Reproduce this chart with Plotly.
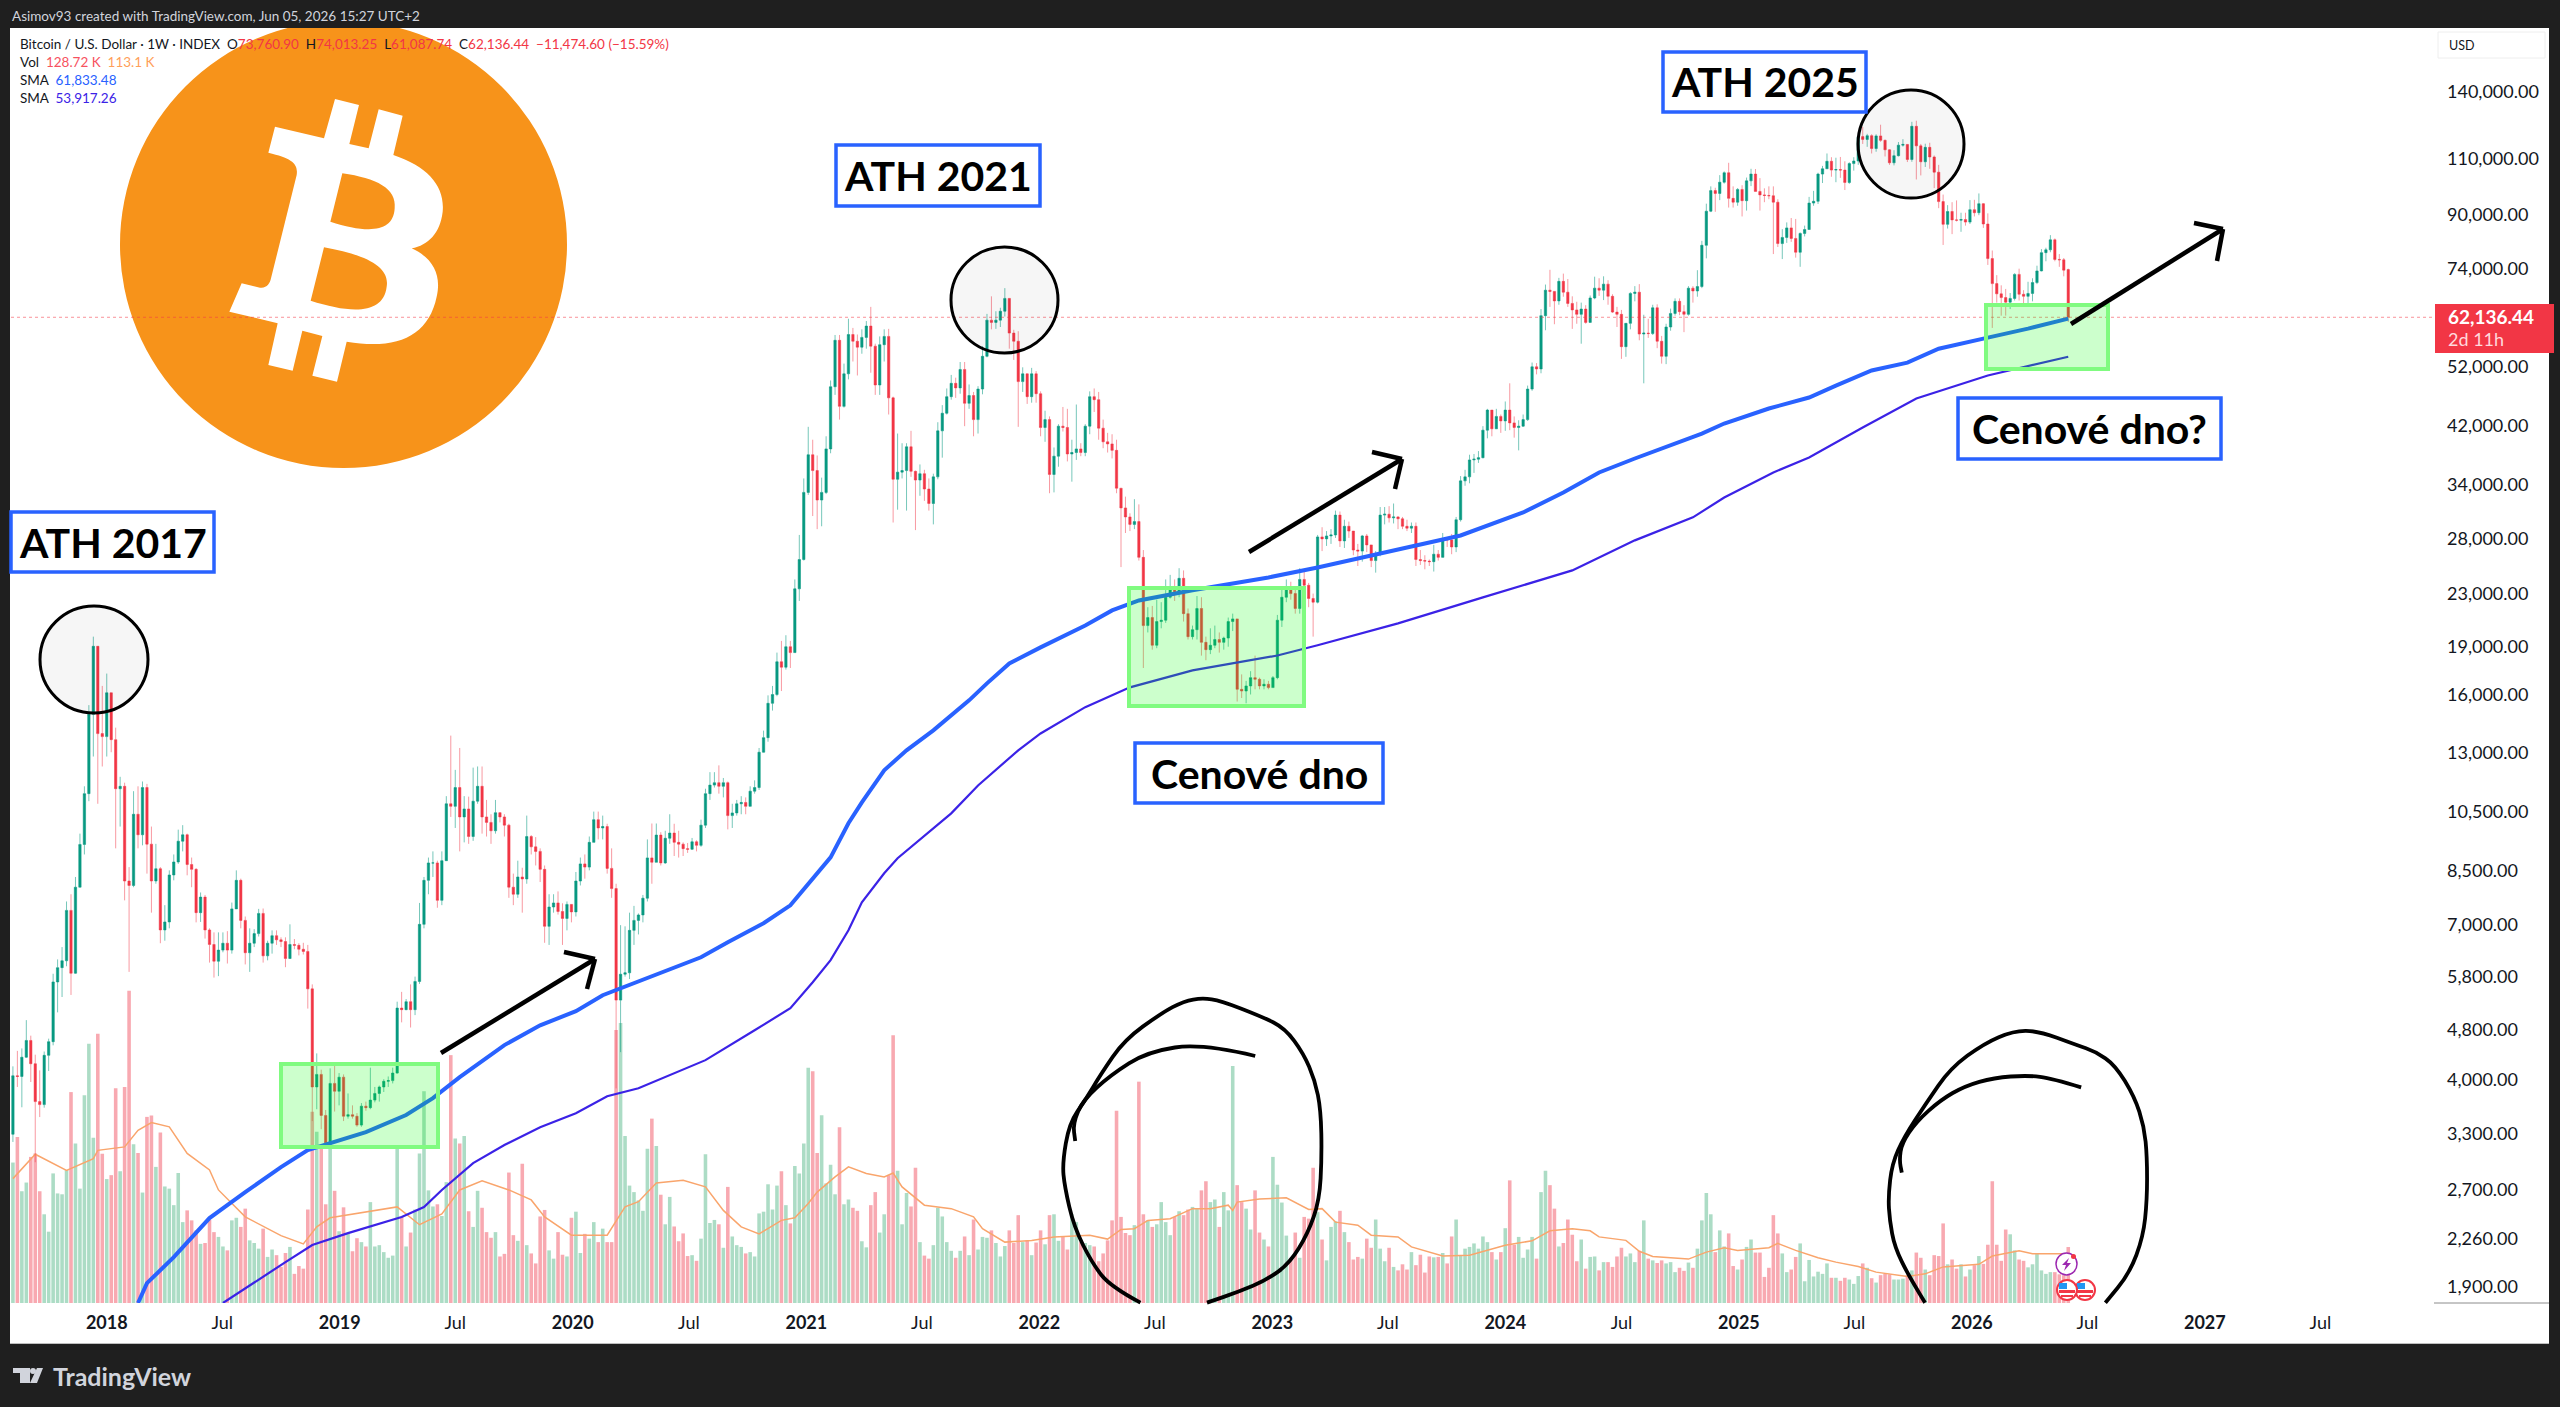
import pandas as pd
import plotly.graph_objects as go

W, H = 2560, 1407
DARK = "#1f1f1f"
UP = "#089981"
DOWN = "#f23645"
BOX_BLUE = "#2962ff"
FONT = "Lato"

# Weekly candles, first week 2017-08-07
closes = [
    4060, 4050, 4340, 4610, 4240, 3700, 3660, 4370, 4590, 5690,
    5990, 6140, 7360, 5870, 8000, 9330, 11200, 14900, 19030, 13900,
    13750, 16100, 13600, 11400, 11500, 8180, 8050, 10400, 9660, 11450,
    9340, 8180, 8550, 6860, 7060, 8360, 8760, 9440, 9660, 8680,
    8530, 7300, 7720, 6860, 6510, 6130, 6380, 6540, 6380, 7400,
    8200, 7100, 6320, 6540, 6770, 7280, 6250, 6540, 6720, 6620,
    6580, 6190, 6510, 6490, 6400, 6350, 5550, 3900, 4080, 3520,
    3190, 3950, 3840, 4040, 3510, 3530, 3510, 3400, 3640, 3620,
    3720, 3810, 3900, 3980, 3990, 4100, 5180, 5150, 5300, 5150,
    5700, 7000, 8200, 8730, 8730, 7630, 8800, 10800, 10700, 11450,
    10300, 10600, 9600, 10900, 11500, 10300, 10100, 9800, 10460, 10300,
    10000, 8000, 7800, 8300, 8240, 9600, 9250, 9100, 8530, 6950,
    7450, 7560, 7330, 7150, 7520, 7320, 8180, 8700, 8600, 9400,
    10200, 9900, 9950, 8560, 7960, 5330, 5850, 5880, 6850, 7100,
    7240, 7690, 8890, 8750, 9650, 8730, 9540, 9720, 9400, 9340,
    9190, 9170, 9420, 9300, 10000, 11200, 11550, 11650, 11500, 11650,
    10350, 10450, 10800, 10850, 10700, 11300, 11450, 13000, 13700, 15500,
    16000, 18000, 17650, 19000, 18600, 23400, 26000, 33100, 37900, 35800,
    32200, 33100, 38700, 48400, 57200, 45100, 50700, 58400, 57000, 55800,
    57800, 60200, 56000, 48700, 56300, 58000, 46500, 34700, 35600, 35800,
    39000, 35700, 34600, 35400, 33500, 31800, 35000, 41300, 44000, 46700,
    49000, 48200, 51500, 45600, 46900, 43000, 48000, 54000, 61500, 61000,
    61500, 63500, 66500, 58700, 57000, 49300, 50700, 46700, 50700, 47200,
    41800, 43000, 35300, 37700, 42000, 41800, 38000, 38200, 38700, 38200,
    42000, 46700, 46200, 41700, 39700, 39400, 38500, 33600, 31300, 30300,
    29500, 29800, 26200, 20500, 21100, 19100, 20800, 20900, 22700, 23300,
    23000, 24300, 21400, 19700, 20200, 21800, 19300, 18800, 19100, 19500,
    19300, 19600, 20800, 21000, 16300, 16200, 16500, 17000, 16900, 16500,
    16600, 16400, 17000, 20900, 22700, 23500, 23000, 21800, 24200, 23700,
    22600, 22300, 28200, 28000, 28300, 28400, 30500, 27800, 29300, 28800,
    26900, 26800, 28300, 27400, 25900, 26500, 30500, 30600, 30200, 30300,
    30100, 29300, 29100, 29300, 26000, 25900, 25850, 25800, 26500, 26200,
    28000, 27900, 27200, 30000, 34500, 35000, 37200, 37300, 37500, 41400,
    44500, 41600, 43500, 42800, 44500, 42500, 41800, 42000, 43000, 48000,
    52000, 51600, 62500, 68500, 68200, 65900, 70700, 68000, 65300, 63800,
    62800, 64000, 61000, 66600, 69000, 68500, 70000, 67000, 63300, 62800,
    55900, 60800, 67700, 68000, 58500, 58700, 58600, 64300, 57000, 54000,
    60000, 63000, 65800, 63400, 62800, 69000, 68300, 69400, 80500, 91000,
    98000, 97000, 101000, 104500, 95300, 94000, 98400, 94500, 101500, 104000,
    97700, 96500, 96300, 96200, 94000, 81000, 82800, 85700, 82500, 78500,
    84000, 85200, 93700, 94300, 104000, 106000, 108900, 105500, 105700, 105500,
    100900, 108000, 109000, 119000, 117800, 119400, 114000, 119300, 117400, 113500,
    108300, 111100, 115400, 115700, 109600, 123500, 115100, 108700, 114500, 110600,
    104700, 94200, 86800, 90900, 88200, 88100, 88300, 87500, 91500, 90500,
    93500, 86900, 76740, 70130, 67600, 66700, 65600, 66500, 72500, 67500,
    67000, 67700, 70400, 73400, 78400, 79200, 82100, 76500, 76400, 73611, 62136.44,
]
highs = [
    4200, 4440, 4480, 4960, 4690, 4380, 4140, 4430, 4640, 5860,
    6170, 6450, 7600, 7800, 8300, 9700, 11500, 15400, 19700, 18900,
    16500, 17250, 16100, 14200, 11900, 11650, 8600, 11300, 11500, 11700,
    11600, 9950, 9350, 8600, 7500, 8500, 9000, 9840, 10000, 9700,
    8900, 8570, 7850, 7780, 6900, 6800, 6800, 6800, 6830, 7570,
    8500, 8250, 7200, 6900, 6880, 7400, 7410, 6600, 6850, 6850,
    6680, 6680, 7000, 6640, 6540, 6550, 6500, 5640, 4400, 4150,
    3590, 4170, 4230, 4100, 4080, 3810, 3650, 3550, 3680, 3700,
    4180, 3900, 3920, 4010, 4050, 4180, 5300, 5490, 5350, 5640,
    5800, 7560, 8300, 8900, 9100, 8800, 9100, 11100, 13800, 12200,
    13200, 11100, 11080, 12300, 12350, 12350, 10950, 10400, 10950, 10480,
    10400, 10050, 8400, 8800, 8580, 10350, 9650, 9580, 9200, 8650,
    7800, 7800, 7880, 7550, 7600, 7450, 8450, 8900, 9000, 9600,
    10500, 10500, 10350, 10050, 9200, 8100, 6980, 6950, 7300, 7480,
    7280, 7780, 9500, 10060, 10060, 9750, 9800, 10400, 10050, 9800,
    9400, 9380, 9550, 9470, 10200, 11400, 12100, 12100, 12400, 11850,
    11700, 10800, 10950, 11100, 11050, 11500, 11750, 13200, 14050, 15950,
    16500, 18600, 19400, 19800, 19400, 24200, 28400, 34800, 41900, 40000,
    37800, 34900, 40500, 49500, 58300, 58300, 52600, 61800, 59800, 58400,
    59500, 61300, 64500, 56500, 58000, 59500, 59600, 46700, 40900, 39500,
    39500, 41300, 35800, 36600, 35900, 34800, 35400, 42600, 45300, 48100,
    50500, 50000, 52900, 52900, 48800, 47500, 48500, 56000, 62900, 67000,
    63500, 64300, 69000, 66300, 59400, 59100, 51900, 50300, 51800, 51200,
    47600, 44400, 43500, 38900, 42300, 45000, 44700, 40000, 45400, 39500,
    42300, 47600, 48100, 47500, 43000, 41000, 40800, 40000, 33600, 32600,
    30700, 32300, 31700, 26900, 21900, 22000, 22500, 22300, 24200, 24600,
    24200, 25200, 25000, 21800, 20500, 22800, 22700, 19700, 20300, 20500,
    20000, 19700, 21100, 21400, 21000, 17200, 16800, 17400, 18400, 17000,
    16900, 16800, 17100, 21300, 23400, 24200, 24000, 23300, 25200, 25000,
    23900, 23000, 28400, 29200, 28800, 29000, 31000, 30900, 30000, 29800,
    28400, 27500, 28400, 28500, 27400, 26800, 31400, 31400, 31500, 31800,
    30400, 30300, 30000, 29700, 29700, 26900, 26400, 26000, 27400, 26900,
    28600, 28100, 28500, 30300, 35100, 35900, 37900, 38000, 38400, 42000,
    44700, 44400, 44700, 43800, 45900, 49000, 43500, 42900, 43800, 48600,
    52800, 52700, 64000, 69900, 73700, 68000, 71600, 72700, 71300, 67000,
    65700, 65500, 64900, 67200, 71900, 71500, 72000, 71000, 67500, 64500,
    63800, 60800, 68000, 69500, 70000, 62700, 61800, 65000, 65100, 58100,
    60700, 64100, 66500, 66500, 64900, 69500, 69500, 73600, 81800, 93500,
    99500, 99000, 103600, 105000, 108300, 99500, 98900, 99900, 102700, 106000,
    105900, 102500, 98800, 99500, 99500, 95000, 85300, 87400, 88800, 88500,
    84300, 86400, 95800, 97900, 104500, 107100, 112000, 110500, 110300, 110600,
    108900, 108500, 110500, 119500, 123200, 120200, 120000, 120000, 124200, 117800,
    113700, 113300, 116700, 117900, 113500, 125500, 126000, 115900, 116000, 116400,
    111200, 107500, 96600, 93000, 94000, 94600, 90500, 90500, 94700, 94800,
    97000, 93700, 90300, 79000, 72300, 69700, 68800, 67800, 72800, 74000,
    68500, 70600, 71500, 74800, 79400, 79800, 83500, 82500, 78000, 76900, 74013.25,
]
lows = [
    3200, 3900, 3625, 4330, 3970, 2975, 3500, 3620, 4130, 4530,
    5100, 5390, 6020, 5430, 5860, 8000, 9000, 10900, 12800, 10800,
    12350, 12800, 13000, 9200, 9950, 7630, 5900, 8000, 9200, 9300,
    8400, 7300, 8100, 6540, 6600, 6900, 8200, 8700, 9100, 8350,
    8000, 7050, 7060, 6650, 6100, 5780, 5810, 6330, 6080, 6300,
    7400, 6900, 6060, 5900, 6450, 6700, 6100, 6150, 6300, 6500,
    6450, 6000, 6180, 6400, 6260, 6280, 5170, 3450, 3600, 3350,
    3150, 3180, 3570, 3650, 3450, 3480, 3480, 3380, 3380, 3580,
    3600, 3690, 3700, 3830, 3900, 3950, 4090, 4920, 5140, 4830,
    5050, 5650, 6900, 7800, 8300, 7430, 7500, 8900, 10300, 9900,
    9100, 9400, 9350, 9450, 10800, 9700, 9600, 9350, 9700, 10100,
    9600, 7700, 7500, 7700, 7300, 8100, 9000, 8650, 8150, 6550,
    6500, 7300, 7250, 6500, 6850, 7050, 7200, 8050, 8250, 8500,
    9400, 9500, 9500, 8400, 7700, 3880, 4420, 5800, 5750, 6500,
    6750, 7050, 7600, 8100, 8750, 8650, 8700, 9350, 8950, 8900,
    8950, 9050, 9150, 9100, 9250, 9900, 10950, 11450, 11200, 11050,
    9850, 9900, 10350, 10400, 10400, 10700, 11200, 11350, 13200, 13500,
    15100, 15900, 16200, 17500, 17600, 19200, 22400, 25900, 32800, 30400,
    29000, 29300, 32900, 38100, 47000, 43000, 44900, 49700, 53000, 50400,
    54500, 55500, 50900, 47000, 47000, 53000, 43800, 29700, 31100, 34800,
    31000, 35000, 28900, 32700, 32100, 31000, 29500, 34700, 37500, 43800,
    46200, 46500, 47200, 42000, 44700, 40500, 40900, 47100, 53800, 59500,
    59600, 60000, 62300, 55500, 53300, 41900, 47500, 45500, 45700, 45700,
    40500, 39700, 33000, 33100, 36300, 41200, 37000, 34400, 37200, 37700,
    37700, 40800, 44200, 40000, 38800, 38200, 37400, 33000, 25300, 28600,
    28800, 29000, 25900, 17600, 20000, 18800, 18900, 20300, 20700, 22600,
    22400, 22700, 20800, 19500, 19500, 19500, 18400, 18100, 18500, 18900,
    18600, 18800, 19000, 20100, 15600, 15800, 15500, 16000, 16300, 16300,
    16300, 16300, 16400, 16900, 20400, 22300, 22500, 21400, 21400, 22800,
    21900, 19700, 22200, 26800, 27300, 27500, 28100, 27200, 27100, 28100,
    26400, 25400, 25800, 26700, 25300, 24800, 26300, 29500, 29700, 29600,
    29000, 29000, 28800, 28600, 25400, 25500, 25100, 25400, 24900, 25900,
    26300, 27200, 26500, 26700, 29800, 33900, 34200, 35500, 36800, 37400,
    40200, 40500, 41700, 41000, 41300, 41400, 40300, 38500, 41900, 42800,
    47700, 50600, 50800, 59300, 64500, 60600, 65000, 66900, 64500, 59600,
    60700, 56500, 60700, 61000, 66300, 67100, 66100, 65000, 63100, 60000,
    53500, 53900, 59500, 65800, 57200, 49000, 57700, 58300, 55600, 52600,
    52500, 59200, 62500, 62600, 58900, 62500, 65500, 66900, 69000, 76800,
    90700, 90800, 94700, 100500, 92200, 92200, 92800, 89300, 91200, 99600,
    97700, 91200, 94000, 95000, 78000, 80000, 76600, 81200, 81500, 77000,
    74500, 83100, 85200, 92800, 93400, 100700, 106000, 103000, 101000, 102600,
    98200, 100400, 105300, 107500, 115900, 114700, 112000, 112700, 116800, 110800,
    107500, 107300, 110800, 114800, 108600, 108700, 102000, 103500, 106700, 106000,
    98900, 92000, 80600, 85500, 83800, 87700, 84500, 86400, 86900, 89300,
    89700, 85700, 75000, 59800, 65500, 62500, 62500, 64000, 66000, 66000,
    65000, 64500, 65800, 70000, 73300, 76000, 78500, 76000, 74500, 72000, 61087.74,
]
first_open = 3290
last_open = 73760.90

# Volume in thousands
volumes = [
    323, 382, 257, 277, 336, 344, 257, 204, 164, 298,
    252, 250, 305, 485, 367, 263, 478, 596, 380, 619,
    343, 285, 294, 494, 303, 497, 718, 365, 345, 254,
    428, 431, 313, 392, 268, 263, 225, 299, 186, 213,
    190, 167, 136, 138, 191, 163, 152, 130, 121, 190,
    196, 175, 217, 144, 138, 125, 171, 106, 123, 110,
    83, 115, 129, 67, 85, 79, 215, 440, 394, 359,
    227, 367, 258, 165, 220, 160, 119, 149, 140, 130,
    232, 130, 133, 117, 104, 109, 360, 198, 130, 162,
    215, 344, 487, 259, 222, 227, 200, 278, 570, 378,
    367, 384, 211, 175, 258, 219, 163, 150, 163, 107,
    113, 300, 156, 143, 320, 133, 114, 91, 199, 214,
    121, 102, 163, 111, 107, 196, 210, 115, 159, 148,
    186, 140, 171, 140, 140, 628, 644, 384, 270, 255,
    236, 212, 355, 424, 361, 249, 181, 244, 176, 142,
    160, 108, 110, 97, 148, 342, 184, 191, 181, 127,
    267, 153, 133, 129, 114, 117, 107, 206, 210, 273,
    215, 270, 303, 225, 183, 315, 298, 367, 541, 533,
    345, 432, 275, 318, 250, 404, 227, 238, 219, 212,
    142, 128, 225, 255, 162, 204, 294, 616, 304, 181,
    253, 222, 311, 140, 109, 102, 133, 219, 199, 140,
    120, 104, 120, 153, 110, 192, 123, 152, 150, 167,
    138, 107, 131, 167, 138, 202, 140, 144, 110, 139,
    167, 135, 202, 204, 143, 152, 123, 204, 186, 140,
    138, 133, 130, 96, 114, 144, 190, 442, 198, 161,
    156, 179, 509, 204, 190, 175, 181, 232, 186, 156,
    198, 211, 202, 215, 221, 216, 259, 280, 232, 238,
    175, 255, 213, 545, 271, 232, 217, 169, 259, 162,
    146, 130, 336, 272, 231, 155, 102, 162, 104, 198,
    194, 311, 209, 146, 98, 175, 188, 212, 163, 140,
    100, 106, 102, 148, 127, 192, 125, 96, 127, 83,
    75, 89, 77, 117, 87, 111, 70, 107, 105, 106,
    115, 91, 153, 192, 110, 125, 129, 137, 125, 153,
    140, 117, 100, 117, 172, 282, 134, 152, 104, 123,
    152, 102, 255, 304, 271, 217, 130, 138, 192, 157,
    96, 146, 79, 106, 107, 75, 94, 94, 83, 107,
    127, 107, 114, 94, 120, 190, 102, 98, 92, 98,
    91, 94, 71, 81, 74, 93, 81, 125, 190, 253,
    204, 117, 167, 130, 160, 85, 77, 100, 129, 146,
    116, 116, 60, 81, 202, 160, 114, 71, 77, 106,
    137, 50, 99, 61, 72, 67, 91, 58, 58, 51,
    58, 54, 44, 62, 91, 81, 57, 47, 64, 67,
    66, 54, 54, 56, 64, 75, 116, 104, 77, 64,
    110, 108, 183, 89, 100, 79, 89, 61, 77, 87,
    108, 90, 134, 280, 134, 97, 169, 158, 121, 100,
    97, 82, 89, 114, 75, 67, 71, 71, 66, 64, 128.72,
]

# Moving averages, read at the listed week numbers
sma_fast_weeks = [28, 30, 36, 44, 52, 60, 66, 71, 79, 88, 94, 100, 110, 118, 126, 132, 136, 142, 154, 160,
                  168, 174, 178, 183, 187, 190, 195, 200, 206, 214, 218, 223, 230, 240, 246, 252, 264, 274,
                  281, 292, 304, 314, 324, 338, 347, 355, 363, 378, 383, 393, 402, 408, 416, 424, 431, 442,
                  451, 460]
sma_fast = [1793, 1926, 2114, 2434, 2672, 2923, 3107, 3186, 3316, 3526, 3746, 4039, 4534, 4868, 5122, 5424, 5562,
            5765, 6218, 6564, 7028, 7496, 8114, 8908, 10068, 10854, 12182, 13089, 14062, 15666, 16653, 17890,
            18956, 20507, 21650, 22443, 23270, 23946, 24373, 25270, 26370, 27358, 28346, 30790, 33080, 35560,
            37390, 40890, 42400, 44750, 46560, 48590, 51310, 52790, 55500, 57760, 59650, 61833.48]
sma_slow_weeks = [47, 53, 61, 67, 75, 87, 92, 96, 103, 110, 118, 126, 133, 140, 155, 166, 174, 179, 183, 187, 190,
                  195, 198, 210, 216, 225, 230, 240, 250, 264, 283, 292, 310, 329, 349, 363, 376, 383, 394, 402,
                  414, 426, 442, 460]
sma_slow = [1793, 1912, 2077, 2209, 2305, 2443, 2533, 2692, 2965, 3165, 3375, 3549, 3772, 3882, 4295, 4783, 5177,
            5685, 6154, 6852, 7576, 8412, 8877, 10434, 11536, 13089, 13909, 15287, 16418, 17452, 18407, 19097,
            20663, 22685, 25002, 27852, 30253, 32496, 35560, 37519, 41795, 46390, 50390, 53917.26]
vol_sma_weeks = [0, 5, 12, 18, 19, 25, 28, 31, 35, 39, 44, 46, 52, 60, 65, 68, 71, 79, 86, 91, 96, 100, 105, 111,
                 116, 119, 125, 133, 137, 140, 144, 150, 155, 159, 163, 167, 172, 175, 178, 180, 184, 187, 191,
                 195, 197, 199, 204, 210, 215, 217, 222, 228, 233, 241, 245, 248, 251, 254, 259, 264, 268, 272,
                 273, 274, 279, 285, 290, 293, 296, 301, 304, 310, 313, 320, 326, 334, 340, 344, 349, 353, 355,
                 361, 364, 367, 375, 379, 383, 386, 390, 393, 395, 399, 404, 408, 413, 417, 424, 428, 432, 440,
                 443, 449, 452, 460]
vol_sma = [286, 342, 305, 332, 351, 359, 397, 415, 405, 344, 306, 260, 198, 155, 136, 175, 196, 209, 221, 180, 205,
           260, 281, 260, 237, 198, 156, 156, 221, 233, 276, 282, 267, 213, 175, 159, 190, 196, 229, 255, 290, 313,
           298, 290, 299, 267, 225, 217, 198, 171, 140, 144, 152, 156, 147, 169, 171, 190, 194, 217, 217, 225, 213,
           232, 239, 242, 215, 217, 186, 179, 156, 152, 129, 108, 110, 133, 143, 166, 171, 166, 152, 144, 119, 107,
           101, 117, 127, 121, 125, 127, 137, 121, 104, 94, 84, 71, 61, 67, 83, 89, 108, 120, 113.5, 113.1]

price_ticks = [140000, 110000, 90000, 74000, 52000, 42000, 34000, 28000, 23000, 19000, 16000,
               13000, 10500, 8500, 7000, 5800, 4800, 4000, 3300, 2700, 2260, 1900]
time_ticks = ["2018-01-01", "2018-07-01", "2019-01-01", "2019-07-01", "2020-01-01", "2020-07-01",
              "2021-01-01", "2021-07-01", "2022-01-01", "2022-07-01", "2023-01-01", "2023-07-01",
              "2024-01-01", "2024-07-01", "2025-01-01", "2025-07-01", "2026-01-01", "2026-07-01",
              "2027-01-01", "2027-07-01"]
time_labels = ["<b>2018</b>", "Jul", "<b>2019</b>", "Jul", "<b>2020</b>", "Jul", "<b>2021</b>", "Jul",
               "<b>2022</b>", "Jul", "<b>2023</b>", "Jul", "<b>2024</b>", "Jul", "<b>2025</b>", "Jul",
               "<b>2026</b>", "Jul", "<b>2027</b>", "Jul"]

lengths = {len(closes), len(highs), len(lows), len(volumes)}
assert len(lengths) == 1, f"lengths {len(closes)} {len(highs)} {len(lows)} {len(volumes)}"

weeks = pd.date_range("2017-08-07", periods=len(closes), freq="7D")
opens = [first_open] + closes[:-1]
opens[-1] = last_open
vol_colors = ["#acdcc5" if c >= o else "#f8a9b1" for o, c in zip(opens, closes)]


# pixel position in the picture -> paper fraction
def fx(x):
    return x / W


def fy(y):
    return 1 - y / H


def rect(x0, y0, x1, y1, fill, line=None, width=0, kind="rect", layer="above"):
    return dict(type=kind, xref="paper", yref="paper", x0=fx(x0), y0=fy(y0), x1=fx(x1), y1=fy(y1),
                fillcolor=fill, line=dict(color=line or fill, width=width), layer=layer)


def seg(x0, y0, x1, y1, color="#000000", width=4.5):
    return dict(type="line", xref="paper", yref="paper", x0=fx(x0), y0=fy(y0), x1=fx(x1), y1=fy(y1),
                line=dict(color=color, width=width))


def pth(cmds, fill="rgba(0,0,0,0)", line="rgba(0,0,0,0)", width=0):
    parts = []
    for c in cmds:
        pts = " ".join(f"{fx(x):.5f},{fy(y):.5f}" for x, y in c[1:])
        parts.append(f"{c[0]} {pts}".strip())
    return dict(type="path", xref="paper", yref="paper", path=" ".join(parts), fillcolor=fill,
                line=dict(color=line, width=width))


def sketch(points, width=3.8):
    # hand drawn stroke, smoothed through midpoints
    cmds = [("M", points[0])]
    for a, b in zip(points[1:-1], points[2:]):
        cmds.append(("Q", a, ((a[0] + b[0]) / 2, (a[1] + b[1]) / 2)))
    cmds.append(("L", points[-1]))
    return pth(cmds, line="#000000", width=width)


def arrow(start, tip, head_a, head_b):
    return [seg(*start, *tip), seg(*head_a, *tip), seg(*head_b, *tip)]


def crop(pts, x0, y0, sx, sy=3):
    return [(x0 + px / sx, y0 + py / sy) for px, py in pts]


def logo(x, y):
    return (100 + x / 3, 20 + y / 3)


shapes = [
    rect(10, 28, 2549, 1344, "#ffffff", layer="below"),
]

# bitcoin logo
shapes.append(rect(120, 21, 567, 468, "#f7931a", kind="circle"))
shapes.append(pth([
    ("M", logo(525, 320)), ("L", logo(672, 355)), ("L", logo(705, 237)), ("L", logo(777, 255)), ("L", logo(748, 372)),
    ("L", logo(806, 385)), ("L", logo(836, 268)), ("L", logo(908, 287)), ("L", logo(880, 405)),
    ("C", logo(985, 440), logo(1035, 500), logo(1028, 575)), ("C", logo(1020, 640), logo(985, 675), logo(935, 685)),
    ("C", logo(1000, 715), logo(1025, 765), logo(1010, 830)), ("C", logo(985, 950), logo(890, 990), logo(740, 965)),
    ("L", logo(711, 1085)), ("L", logo(637, 1067)), ("L", logo(667, 948)), ("L", logo(607, 932)), ("L", logo(578, 1052)),
    ("L", logo(505, 1035)), ("L", logo(533, 910)), ("L", logo(388, 875)), ("L", logo(425, 790)), ("L", logo(480, 803)),
    ("C", logo(500, 806), logo(510, 790), logo(513, 775)), ("L", logo(590, 465)),
    ("C", logo(595, 430), logo(575, 415), logo(505, 398)), ("Z",),
], fill="#ffffff"))
shapes.append(pth([
    ("M", logo(727, 460)), ("C", logo(830, 475), logo(890, 505), logo(884, 565)),
    ("C", logo(880, 640), logo(800, 640), logo(691, 605)), ("Z",),
], fill="#f7931a"))
shapes.append(pth([
    ("M", logo(672, 682)), ("C", logo(800, 705), logo(870, 740), logo(860, 800)),
    ("C", logo(850, 885), logo(750, 880), logo(632, 842)), ("Z",),
], fill="#f7931a"))

# last price line
shapes.append(dict(type="line", xref="paper", yref="y2", x0=fx(11), x1=fx(2434), y0=closes[-1], y1=closes[-1],
                   line=dict(color="rgba(242,54,69,0.55)", width=1, dash="dot")))

# bottom of the price scale and frame
shapes.append(seg(2434, 1303, 2549, 1303, "#8c8c8c", 1))
shapes.append(seg(10, 1344, 2549, 1344, "#a8a8a8", 1.5))

# green zones
zone_fill = "rgba(0,255,0,0.2)"
for box in [(281, 1064, 438, 1147), (1129, 588, 1304, 706), (1986, 305, 2108, 369)]:
    shapes.append(rect(*box, zone_fill, "#80fb80", 4))

# circles around the highs
for box in [(40, 606, 148, 713), (951, 247, 1058, 353), (1858, 90, 1964, 198)]:
    shapes.append(rect(*box, "rgba(0,0,0,0.035)", "#000000", 3, kind="circle"))

# arrows
shapes += arrow((441, 1053), (595, 959), (564, 952), (587, 989))
shapes += arrow((1249, 552), (1402, 459), (1372, 452), (1395, 489))
shapes += arrow((2071, 324), (2223, 229), (2194, 223), (2217, 261))

# hand drawn circles over the volume
blob_one_x, blob_one_y, blob_one_s = 780, 1000, 2.178
shapes.append(sketch(crop([(1035, 168), (920, 130), (800, 155), (720, 225), (660, 300), (638, 370), (643, 423)],
                          blob_one_x, blob_one_y, blob_one_s)))
shapes.append(sketch(crop([(785, 908), (720, 860), (680, 790), (640, 680), (620, 560), (615, 490), (630, 370),
                           (665, 300), (700, 220), (750, 120), (830, 40), (880, 3), (920, -6), (960, 2), (1050, 50),
                           (1100, 85), (1140, 160), (1165, 240), (1178, 330), (1180, 470), (1175, 600), (1150, 700),
                           (1110, 790), (1060, 840), (1000, 875), (930, 908)],
                          blob_one_x, blob_one_y, blob_one_s)))
blob_two_x, blob_two_y, blob_two_s = 1800, 1000, 2.063
shapes.append(sketch(crop([(580, 262), (520, 235), (470, 226), (400, 233), (340, 258), (290, 300), (240, 365),
                           (210, 430), (205, 480), (210, 518)], blob_two_x, blob_two_y, blob_two_s)))
shapes.append(sketch(crop([(258, 908), (225, 830), (195, 740), (185, 660), (182, 590), (190, 490), (215, 410),
                           (260, 310), (310, 205), (380, 130), (440, 93), (490, 92), (570, 135), (610, 155),
                           (650, 195), (690, 290), (710, 380), (716, 470), (716, 600), (708, 710), (680, 820),
                           (630, 908)], blob_two_x, blob_two_y, blob_two_s)))

# event icons on the last bar
shapes.append(rect(2056, 1253, 2077, 1275, "#ffffff", "#9c27b0", 1.5, kind="circle"))
shapes.append(pth([("M", (2069, 1258)), ("L", (2062, 1265)), ("L", (2066, 1265)), ("L", (2064, 1271)),
                   ("L", (2071, 1263)), ("L", (2067, 1263)), ("Z",)], fill="#9c27b0"))
shapes.append(rect(2071, 1254, 2076, 1259, "#f23645", kind="circle"))
for cx in (2085, 2067):
    shapes.append(rect(cx - 10, 1280, cx + 10, 1300, "#ffffff", "#f23645", 2, kind="circle"))
    shapes.append(rect(cx - 8, 1290, cx + 8, 1293, "#f23645"))
    shapes.append(rect(cx - 6, 1295, cx + 6, 1297, "#f23645"))
    shapes.append(rect(cx - 8, 1283, cx, 1289, "#2196f3"))

# text boxes
text_boxes = [
    ("ATH 2017", 11, 512, 214, 572),
    ("ATH 2021", 836, 145, 1040, 206),
    ("ATH 2025", 1663, 52, 1866, 112),
    ("Cenové dno", 1135, 743, 1383, 803),
    ("Cenové dno?", 1958, 398, 2221, 459),
]
for _, x0, y0, x1, y1 in text_boxes:
    shapes.append(rect(x0, y0, x1, y1, "#ffffff", BOX_BLUE, 3.5))

# price tag and currency box
shapes.append(rect(2435, 304, 2554, 353, DOWN))
shapes.append(rect(2438, 32, 2545, 58, "#ffffff", "#eeeeee", 1))

# dark frame on top of the logo
shapes.append(rect(0, 0, W, 28, DARK))
shapes.append(rect(0, 1344, W, H, DARK))

# TradingView mark
shapes.append(rect(13, 1368, 30, 1373, "#d1d4dc"))
shapes.append(rect(20, 1373, 30, 1383, "#d1d4dc"))
shapes.append(rect(30, 1368, 36, 1374, "#d1d4dc", kind="circle"))
shapes.append(pth([("M", (37, 1368)), ("L", (43, 1368)), ("L", (37, 1383)), ("L", (30, 1383)), ("Z",)], fill="#d1d4dc"))


def note(text, x, y, size, color="#131722", anchor="left", bold=False):
    return dict(text=f"<b>{text}</b>" if bold else text, xref="paper", yref="paper", x=fx(x), y=fy(y),
                xanchor=anchor, yanchor="middle", showarrow=False, align=anchor,
                font=dict(family=FONT, size=size, color=color))


def colored(text, color):
    return f'<span style="color:{color}">{text}</span>'


red = "#f23645"
annotations = [
    note("Asimov93 created with TradingView.com, Jun 05, 2026 15:27 UTC+2", 10, 16, 13.5, "#d1d4dc"),
    note("Bitcoin / U.S. Dollar · 1W · INDEX  O" + colored("73,760.90", red) + "  H" + colored("74,013.25", red)
         + "  L" + colored("61,087.74", red) + "  C" + colored("62,136.44", red) + "  "
         + colored("−11,474.60 (−15.59%)", red), 18, 44, 13.5),
    note("Vol  " + colored("128.72 K", "#f7525f") + "  " + colored("113.1 K", "#ff9f5a"), 18, 62, 13.5),
    note("SMA  " + colored("61,833.48", "#2962ff"), 18, 80, 13.5),
    note("SMA  " + colored("53,917.26", "#3b22e6"), 18, 98, 13.5),
    note("USD", 2447, 45, 12.5),
    note("62,136.44", 2446, 317, 19, "#ffffff", bold=True),
    note("2d 11h", 2446, 339, 18, "#ffd9dc"),
    note("TradingView", 51, 1376, 25, "#d1d4dc", bold=True),
]
for label, x0, y0, x1, y1 in text_boxes:
    annotations.append(note(label, (x0 + x1) / 2, (y0 + y1) / 2, 41, "#000000", "center", bold=True))

fig = go.Figure()
fig.add_trace(go.Bar(x=weeks, y=volumes, marker=dict(color=vol_colors, line=dict(width=0)),
                     yaxis="y", hoverinfo="skip", showlegend=False))
fig.add_trace(go.Scatter(x=weeks[vol_sma_weeks], y=vol_sma, mode="lines", yaxis="y", hoverinfo="skip",
                         line=dict(color="#f9a56c", width=1.5), showlegend=False))
fig.add_trace(go.Candlestick(x=weeks, open=opens, high=highs, low=lows, close=closes, yaxis="y2",
                             increasing=dict(fillcolor=UP, line=dict(color="rgba(8,153,129,0.55)", width=1)),
                             decreasing=dict(fillcolor=DOWN, line=dict(color="rgba(242,54,69,0.5)", width=1)),
                             whiskerwidth=0, showlegend=False, hoverinfo="skip"))
fig.add_trace(go.Scatter(x=weeks[sma_slow_weeks], y=sma_slow, mode="lines", yaxis="y2", hoverinfo="skip",
                         line=dict(color="#3b22e6", width=2.2), showlegend=False))
fig.add_trace(go.Scatter(x=weeks[sma_fast_weeks], y=sma_fast, mode="lines", yaxis="y2", hoverinfo="skip",
                         line=dict(color="#2962ff", width=4), showlegend=False))

fig.update_layout(
    width=W,
    height=H,
    margin=dict(l=0, r=0, t=0, b=0),
    paper_bgcolor=DARK,
    plot_bgcolor="rgba(0,0,0,0)",
    bargap=0.2,
    boxgap=0.25,
    shapes=shapes,
    annotations=annotations,
    xaxis=dict(domain=[fx(11), fx(2434)], range=["2017-08-04", "2027-12-26"], rangeslider=dict(visible=False),
               tickmode="array", tickvals=time_ticks, ticktext=time_labels, ticks="", showgrid=False, zeroline=False,
               showline=False, ticklabelstandoff=7, tickfont=dict(family=FONT, size=18, color="#131722")),
    yaxis=dict(domain=[fy(1303), fy(28)], range=[0, 2932], visible=False, fixedrange=True),
    yaxis2=dict(domain=[fy(1303), fy(28)], overlaying="y", side="right", type="log", range=[3.2536, 5.2452],
                tickmode="array", tickvals=price_ticks, ticktext=[f"{t:,.2f}" for t in price_ticks], ticks="",
                showgrid=False, zeroline=False, showline=False, ticklabelstandoff=12,
                tickfont=dict(family=FONT, size=18, color="#131722")),
)

fig.write_html("out.html", config=dict(displayModeBar=False),
               post_script="document.body.style.margin='0';document.body.style.background='#1f1f1f';")
